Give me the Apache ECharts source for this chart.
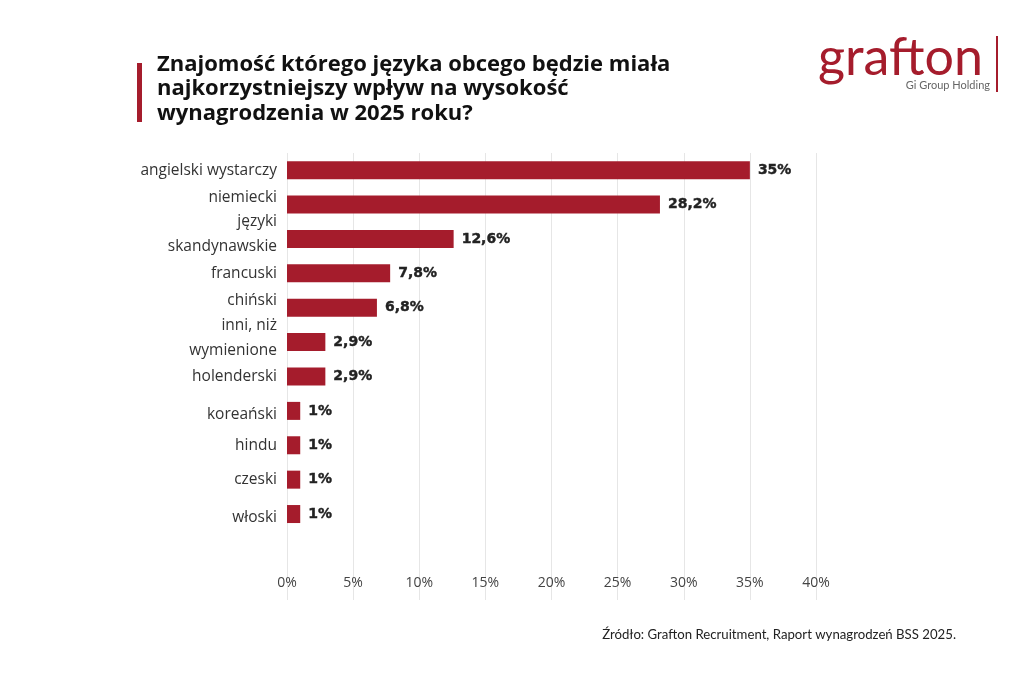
<!DOCTYPE html>
<html>
<head>
<meta charset="utf-8">
<script src="https://cdn.jsdelivr.net/npm/echarts@6/dist/echarts.min.js"></script>
<style>
html,body{margin:0;padding:0;background:#fff;}
#c{width:1024px;height:683px;}
</style>
</head>
<body>
<div id="c"></div>
<script>
const titleText = 'Znajomość którego języka obcego będzie miała\nnajkorzystniejszy wpływ na wysokość\nwynagrodzenia w 2025 roku?';
const sourceText = 'Źródło: Grafton Recruitment, Raport wynagrodzeń BSS 2025.';
const categories = ['angielski wystarczy','niemiecki','języki\nskandynawskie','francuski','chiński','inni, niż\nwymienione','holenderski','koreański','hindu','czeski','włoski'];
const values = [35, 28.2, 12.6, 7.8, 6.8, 2.9, 2.9, 1, 1, 1, 1];
const xTicks = [0, 5, 10, 15, 20, 25, 30, 35, 40];

// label vertical nudges (style only): rich style names that lift/drop single-line labels
const labelNudge = {'niemiecki': 'up', 'chiński': 'up', 'koreański': 'dn', 'włoski': 'dn'};

const RED = '#a51c2c';
const chart = echarts.init(document.getElementById('c'), null, {renderer: 'canvas'});
const lab = {fontSize: 15.5, color: '#333', fontFamily: 'Open Sans', lineHeight: 25};
chart.setOption({
  animation: false,
  backgroundColor: '#fff',
  textStyle: {fontFamily: 'Open Sans'},
  graphic: [
    {type: 'rect', left: 137, top: 63, shape: {width: 5, height: 59}, style: {fill: RED}},
    {type: 'text', left: 157, top: 52, style: {text: titleText, font: 'bold 22px "Open Sans"', fill: '#111', lineHeight: 24.5}},
    {type: 'text', left: 818, top: 32, style: {text: 'grafton', font: '52px Lato', fill: RED}},
    {type: 'rect', left: 996, top: 36, shape: {width: 2, height: 56}, style: {fill: RED}},
    {type: 'text', right: 34, top: 80, style: {text: 'Gi Group Holding', font: '11px Lato', fill: '#666'}},
    {type: 'text', right: 68, top: 628, style: {text: sourceText, font: '13.2px Lato', fill: '#222'}}
  ],
  grid: {left: 287, right: 208, top: 153, bottom: 83, containLabel: false},
  xAxis: {
    type: 'value', min: 0, max: 40, interval: 5,
    axisLine: {show: false}, axisTick: {show: false},
    splitLine: {lineStyle: {color: '#e6e6e6', width: 1}},
    axisLabel: {margin: -24, color: '#444', fontSize: 14, fontFamily: 'Open Sans',
      formatter: v => xTicks.indexOf(v) >= 0 ? v + '%' : ''}
  },
  yAxis: {
    type: 'category', inverse: true, max: 12, data: categories,
    axisLine: {show: false}, axisTick: {show: false},
    axisLabel: {margin: 10, color: '#333', fontSize: 15.5, fontFamily: 'Open Sans', lineHeight: 25,
      formatter: v => {
        if (categories.indexOf(v) < 0) return '';
        const lines = v.split('\n');
        if (lines.length > 1) return lines.map(l => '{n|' + l + '}').join('\n') + '\n{e| }';
        const s = labelNudge[v] || 'n';
        return '{' + s + '|' + v + '}';
      },
      rich: {
        n: lab,
        e: Object.assign({}, lab, {lineHeight: 9, fontSize: 8}),
        up: Object.assign({}, lab, {lineHeight: 18, padding: [0, 0, 14, 0]}),
        dn: Object.assign({}, lab, {lineHeight: 18, padding: [7, 0, 0, 0]})
      }
    }
  },
  series: [{
    type: 'bar', data: values, barWidth: 18,
    itemStyle: {color: RED},
    label: {show: true, position: 'right', distance: 8, color: '#222', fontSize: 14, fontWeight: 'bold', fontFamily: 'DejaVu Sans',
      textBorderColor: '#222', textBorderWidth: 0.4,
      formatter: p => String(p.value).replace('.', ',') + '%'}
  }]
});
</script>
</body>
</html>
